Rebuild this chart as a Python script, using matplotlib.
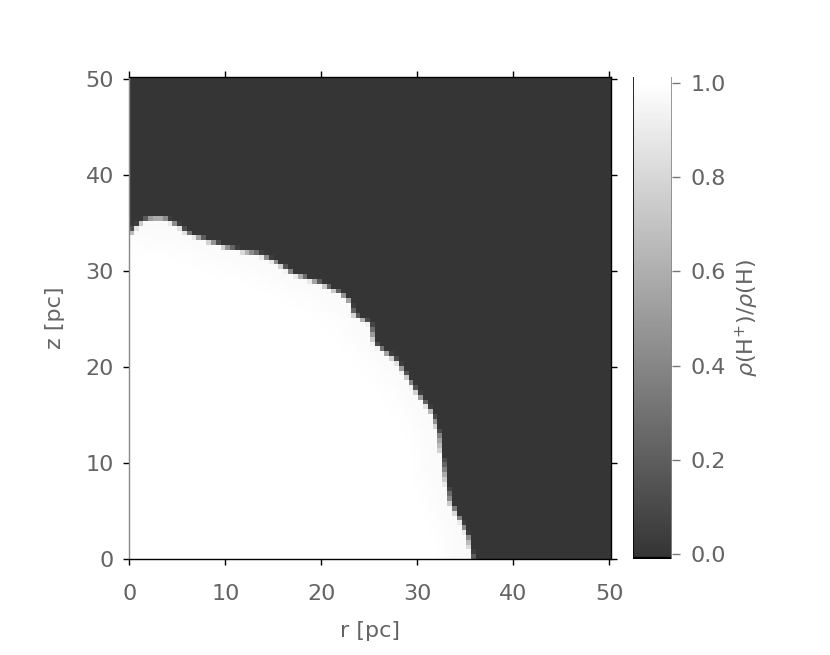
import numpy as np
import matplotlib
matplotlib.use("Agg")
import matplotlib.pyplot as plt
from matplotlib.colors import LinearSegmentedColormap

# ionisation front: z of the front for each r (pc)
front_r = [0.0, 0.4, 1.35, 2.2, 3.7, 5.3, 6.0, 8.1, 10.5, 13.6, 15.4, 17.0, 19.9,
           21.9, 23.0, 23.3, 25.1, 25.6, 27.9, 29.2, 31.6, 32.3, 32.8, 33.4,
           34.7, 35.4, 35.8]
front_z = [33.6, 34.3, 35.1, 35.4, 35.4, 34.6, 33.9, 33.1, 32.3, 31.7, 30.8, 29.7,
           28.7, 27.7, 26.8, 25.5, 24.5, 22.3, 20.6, 18.5, 15.1, 13.0, 9.5, 6.0,
           3.6, 2.2, 0.0]
x_ticks = [0, 10, 20, 30, 40, 50]
y_ticks = [0, 10, 20, 30, 40, 50]
cb_ticks = [0.0, 0.2, 0.4, 0.6, 0.8, 1.0]
ion_inside = 1.0
ion_outside = 0.0

box = 50.2
ncell = 100
sub = 5

# fine mask of the ionised region, then average down to the grid cells
nf = ncell * sub
cf = (np.arange(nf) + 0.5) * box / nf
rr, zz = np.meshgrid(cf, cf)
zfront = np.interp(rr, front_r, front_z, right=-1.0)
mask = (zz < zfront).astype(float)
frac = mask.reshape(ncell, sub, ncell, sub).mean(axis=(1, 3))

# faint darkening just inside the front
k = 15
pad = np.pad(frac, k, mode="reflect")
kern = np.ones(k) / k
blur = np.apply_along_axis(lambda v: np.convolve(v, kern, mode="same"), 0, pad)
blur = np.apply_along_axis(lambda v: np.convolve(v, kern, mode="same"), 1, blur)
blur = blur[k:-k, k:-k]
field = ion_outside + (ion_inside - ion_outside) * frac * (0.95 + 0.05 * blur)

vmin, vmax = -0.0106, 1.0127
cmap = LinearSegmentedColormap.from_list(
    "ion", [(0.0, "black"), (0.0035, "black"), (0.004, (0.205, 0.205, 0.205)),
            (0.9876, "white"), (1.0, "white")])

plt.rcParams["font.family"] = ["DejaVu Sans"]
plt.rcParams["mathtext.fontset"] = "dejavusans"
txt = "#646464"

fig = plt.figure(figsize=(8.3, 6.55), dpi=100)
ax = fig.add_axes([129.3 / 830, 1 - 559.3 / 655, 481.7 / 830, 482.6 / 655])
cax = fig.add_axes([633.3 / 830, 1 - 559.3 / 655, 39.0 / 830, 482.6 / 655])

im = ax.imshow(field, origin="lower", extent=[0, box, 0, box], cmap=cmap,
               vmin=vmin, vmax=vmax, interpolation="nearest", aspect="auto")
ax.set_xlim(0, box)
ax.set_ylim(0, box)
ax.set_xticks(x_ticks)
ax.set_yticks(y_ticks)
ax.tick_params(which="both", direction="out", top=True, right=True, length=4,
               width=1, color="k", labelsize=16, labelcolor=txt)
ax.tick_params(axis="x", pad=14)
ax.tick_params(axis="y", pad=7)
for s in ax.spines.values():
    s.set_color("k")
    s.set_linewidth(1)
ax.spines["left"].set_color("#888888")
ax.set_xlabel("r [pc]", fontsize=16, color=txt, labelpad=12)
ax.set_ylabel("z [pc]", fontsize=16, color=txt, labelpad=15)

cb = fig.colorbar(im, cax=cax, ticks=cb_ticks, format="%.1f")
cb.outline.set_visible(False)
cax.axvline(0, color="k", lw=1.2)
cax.axvline(1, color="#888888", lw=1.2)
cax.tick_params(direction="out", length=6, width=1, color="#777777",
                labelsize=16, labelcolor=txt, pad=7)
cb.set_label(r"$\rho(\mathrm{H}^{+})/\rho(\mathrm{H})$", fontsize=16,
             color=txt, labelpad=6)

fig.savefig("out.png", dpi=100)
